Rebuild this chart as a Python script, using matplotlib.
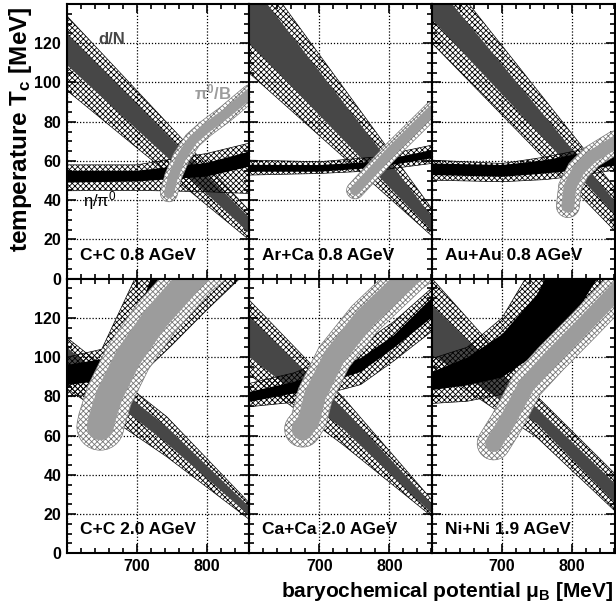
import numpy as np
import matplotlib
matplotlib.use("Agg")
import matplotlib.pyplot as plt
from matplotlib.patches import Polygon
from matplotlib.ticker import MultipleLocator

plt.rcParams['font.family'] = ['Liberation Sans', 'DejaVu Sans']
plt.rcParams['font.weight'] = 'bold'
plt.rcParams['mathtext.default'] = 'regular'
plt.rcParams['hatch.linewidth'] = 0.6

# collision systems, panel order: top row then bottom row
systems = ["C+C 0.8 AGeV", "Ar+Ca 0.8 AGeV", "Au+Au 0.8 AGeV",
           "C+C 2.0 AGeV", "Ca+Ca 2.0 AGeV", "Ni+Ni 1.9 AGeV"]

# d/N band (mu_B nodes, T limits): hatched = outer, dark = inner
dn_x = [[600, 860], [600, 860], [600, 860],
        [600, 743, 860], [600, 735, 860], [600, 750, 860]]
dn_out_lo = [[96, 20], [104.7, 22], [120, 24.7],
             [84, 49.2, 17.5], [91, 55, 19], [95, 59, 22]]
dn_out_hi = [[134, 35], [163, 36], [163.6, 46.8],
             [110, 69.6, 26], [129, 79, 27.5], [140, 80, 41]]
dn_in_lo = [[109, 23.5], [120, 24.5], [132, 33],
            [96, 56, 19.5], [100, 63, 20.4], [101, 66, 26]]
dn_in_hi = [[125, 31.5], [151.7, 32], [152.4, 40],
            [105, 64.5, 24], [120.5, 73.5, 25.5], [126.5, 74, 36]]

# eta/pi0 band
eta_x = [[600, 700, 800, 860], [600, 700, 780, 860], [600, 700, 762, 810, 860],
         [600, 650, 700, 750, 800, 850], [600, 664, 759, 806, 860],
         [600, 650, 700, 750, 800, 850]]
eta_out_lo = [[44.8, 45, 44.3, 43.4], [52.8, 53.6, 55, 58.7],
              [50.2, 49.4, 50.5, 52.5, 55.3], [80, 81.5, 89, 106, 124, 141],
              [74.7, 77, 86, 98, 113], [76.4, 77.5, 81, 93, 108, 128]]
eta_out_hi = [[58, 58, 63.8, 69], [60.4, 59.6, 62, 68],
              [60.4, 58.7, 62, 65.5, 69], [100, 104, 142, 180, 220, 260],
              [86.6, 92, 106.3, 118, 135], [99.3, 105, 120, 150, 180, 215]]
eta_in_lo = [[49, 49.5, 52, 57], [54.5, 54.5, 56.5, 61.3],
             [52.8, 51.9, 53.6, 55.3, 57.5], [85.7, 88, 97, 118, 137, 155],
             [77.2, 81.5, 92.4, 104.5, 120], [83.2, 85.6, 89.6, 101.9, 119.5, 148]]
eta_in_hi = [[55, 55, 59, 64.7], [58, 57.9, 59.6, 65.5],
             [58.7, 57.9, 60.4, 63.8, 66.5], [96, 99, 120, 170, 200, 230],
             [82.3, 87.4, 99.5, 111, 130], [92.5, 99.7, 111.6, 132, 165, 200]]

# pi0/B band centre lines
pi_x = [[746, 752, 764, 780, 799, 827, 862],
        [751, 804, 862],
        [794, 797, 809, 828, 862],
        [648, 650, 661, 688, 727, 782, 800],
        [676, 685, 694, 721, 765, 830, 850],
        [688, 707, 735, 770, 817, 862, 880]]
pi_y = [[43.5, 52, 62, 70.6, 76.6, 84, 94.5],
        [45, 65.5, 86],
        [37, 46.8, 55.3, 62.1, 69.5],
        [64.5, 68, 80.6, 100, 119.7, 141.8, 147],
        [63.3, 68, 80.6, 100, 119.7, 141.8, 147],
        [56, 67, 85.7, 99.3, 116.3, 133, 140]]

# stroke widths of the pi0/B band in pixels (inner, hatched outline)
pi_core_px = [10, 10, 13, 27, 22, 17]
pi_halo_px = [17, 17, 23, 47, 36, 33]

DARK = '#474747'
LIGHT = '#9c9c9c'
LIGHT_HATCH = '#777777'
HATCH = 'xxxxxx'


def band(ax, x, lo, hi, **kw):
    verts = list(zip(x, lo)) + list(zip(x[::-1], hi[::-1]))
    ax.add_patch(Polygon(verts, closed=True, **kw))


def stroke(ax, x, y, width):
    # outline of a round-capped stroke of given pixel width, in data coords
    p = ax.transData.transform(np.column_stack([x, y]))
    t = np.gradient(p, axis=0)
    t /= np.hypot(t[:, 0], t[:, 1])[:, None]
    n = np.column_stack([-t[:, 1], t[:, 0]])
    h = width / 2
    a0 = np.arctan2(t[0, 1], t[0, 0])
    a1 = np.arctan2(t[-1, 1], t[-1, 0])
    c0 = a0 + np.linspace(np.pi / 2, 3 * np.pi / 2, 16)
    c1 = a1 + np.linspace(-np.pi / 2, np.pi / 2, 16)
    start = p[0] + h * np.column_stack([np.cos(c0), np.sin(c0)])
    end = p[-1] + h * np.column_stack([np.cos(c1), np.sin(c1)])
    verts = np.vstack([p - h * n, end, (p + h * n)[::-1], start])
    return ax.transData.inverted().transform(verts)


fig, axes = plt.subplots(2, 3, figsize=(6.16, 6.12), dpi=100, sharex=True, sharey=True)
fig.subplots_adjust(left=0.1083, right=0.998, top=0.9935, bottom=0.0959,
                    wspace=0, hspace=0)

for i, ax in enumerate(axes.flat):
    ax.set_xlim(600, 861)
    ax.set_ylim(0, 140)
    ax.set_xticks([600, 700, 800])
    ax.set_yticks([0, 20, 40, 60, 80, 100, 120])
    ax.xaxis.set_minor_locator(MultipleLocator(20))
    ax.yaxis.set_minor_locator(MultipleLocator(5))
    ax.set_axisbelow(True)
    ax.grid(True, which='major', color='black', linestyle=(0, (1, 1.5)), linewidth=0.9)
    ax.tick_params(which='both', direction='in', top=True, right=True,
                   width=1.2, labelsize=11.5, pad=4)
    ax.tick_params(which='major', length=6.5)
    ax.tick_params(which='minor', length=3.5)
    for s in ax.spines.values():
        s.set_linewidth(1.5)

    # d/N
    band(ax, dn_x[i], dn_out_lo[i], dn_out_hi[i], facecolor='none',
         edgecolor='black', hatch=HATCH, linewidth=0.5)
    band(ax, dn_x[i], dn_in_lo[i], dn_in_hi[i], facecolor=DARK, edgecolor='none')
    # eta/pi0
    band(ax, eta_x[i], eta_out_lo[i], eta_out_hi[i], facecolor='none',
         edgecolor='black', hatch=HATCH, linewidth=0.5)
    band(ax, eta_x[i], eta_in_lo[i], eta_in_hi[i], facecolor='black', edgecolor='none')
    # pi0/B
    ax.add_patch(Polygon(stroke(ax, pi_x[i], pi_y[i], pi_halo_px[i]), closed=True,
                         facecolor='white', edgecolor=LIGHT_HATCH, hatch=HATCH,
                         linewidth=0.5))
    ax.add_patch(Polygon(stroke(ax, pi_x[i], pi_y[i], pi_core_px[i]), closed=True,
                         facecolor=LIGHT, edgecolor='none'))

    ax.text(0.07, 0.085, systems[i], transform=ax.transAxes, fontsize=12.5,
            fontweight='bold', ha='left', va='center')

for ax in axes[0]:
    ax.tick_params(labelbottom=False)
axes[1, 0].set_xticklabels(['', '700', '800'])

ax0 = axes[0, 0]
ax0.text(645, 122, 'd/N', color=DARK, fontsize=12, fontweight='bold', va='center')
ax0.text(782, 95, r'$\pi^0$/B', color=LIGHT, fontsize=12, fontweight='bold', va='center')
ax0.text(623, 40, r'$\eta/\pi^0$', color='black', fontsize=12, fontweight='normal',
         va='center')

fig.text(0.034, 0.789, r'temperature T$_c$ [MeV]', rotation=90, fontsize=17.5,
         fontweight='bold', ha='center', va='center')
fig.text(0.995, 0.033, r'baryochemical potential $\mu_B$ [MeV]', fontsize=15,
         fontweight='bold', ha='right', va='center')

fig.savefig('out.png', dpi=100)
